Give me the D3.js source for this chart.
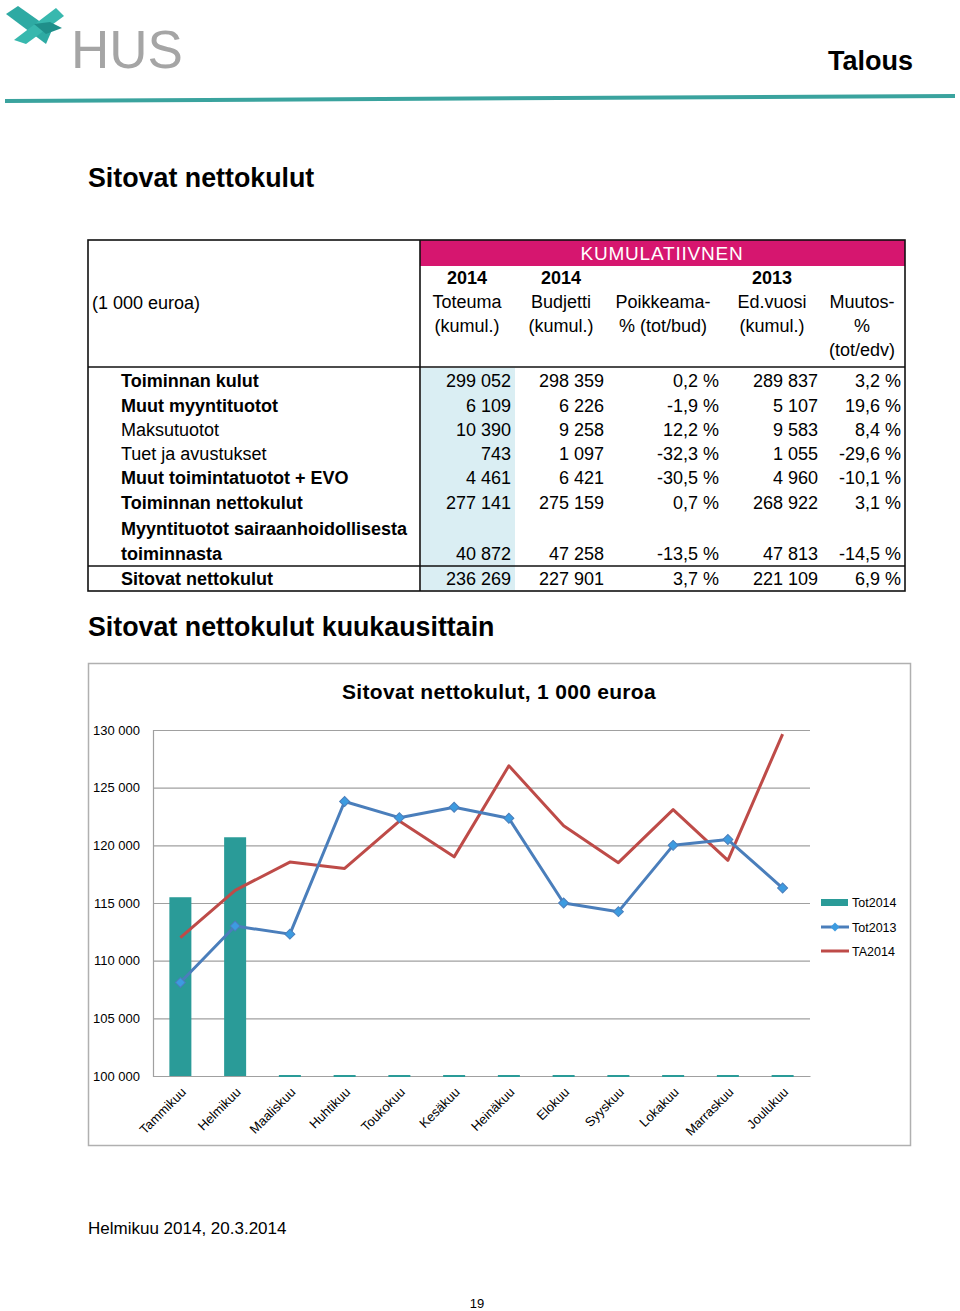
<!DOCTYPE html>
<html><head><meta charset="utf-8">
<script src="https://cdn.jsdelivr.net/npm/d3@7"></script>
<style>
body{margin:0;background:#fff;}
svg{display:block;}
text{font-family:"Liberation Sans",Arial,sans-serif;}
</style></head>
<body>
<svg id="page" width="960" height="1311"></svg>
<script>
// ---------- DATA ----------
const months = ["Tammikuu","Helmikuu","Maaliskuu","Huhtikuu","Toukokuu","Kesäkuu","Heinäkuu","Elokuu","Syyskuu","Lokakuu","Marraskuu","Joulukuu"];
const tot2014 = [115500,120700,0,0,0,0,0,0,0,0,0,0];
const tot2013 = [108100,113000,112300,123800,122400,123300,122350,115000,114250,120000,120500,116300];
const ta2014  = [112000,116100,118550,118000,122100,119000,126900,121700,118500,123100,118700,129650];
const yTicks  = [100000,105000,110000,115000,120000,125000,130000];
const seriesNames = ["Tot2014","Tot2013","TA2014"];

const rowLabels = ["Toiminnan kulut","Muut myyntituotot","Maksutuotot","Tuet ja avustukset","Muut toimintatuotot + EVO","Toiminnan nettokulut","Myyntituotot sairaanhoidollisesta|toiminnasta","Sitovat nettokulut"];
const rowBold   = [true,true,false,false,true,true,true,true];
const toteuma   = [299052,6109,10390,743,4461,277141,40872,236269];
const budjetti  = [298359,6226,9258,1097,6421,275159,47258,227901];
const poikkeama = [0.2,-1.9,12.2,-32.3,-30.5,0.7,-13.5,3.7];
const edvuosi   = [289837,5107,9583,1055,4960,268922,47813,221109];
const muutos    = [3.2,19.6,8.4,-29.6,-10.1,3.1,-14.5,6.9];
const headerLines = [
  ["2014","Toteuma","(kumul.)"],
  ["2014","Budjetti","(kumul.)"],
  ["","Poikkeama-","% (tot/bud)"],
  ["2013","Ed.vuosi","(kumul.)"],
  ["","Muutos-","%","(tot/edv)"]
];

// ---------- helpers ----------
const fi = d3.formatLocale({decimal:",", thousands:"\u00a0", grouping:[3], currency:["","€"], minus:"-"});
const fmtInt = fi.format(",d");
const fmtPct = v => fi.format(".1f")(v) + "\u00a0%";

const svg = d3.select("#page");

// ---------- page header ----------
const logo = svg.append("g");
logo.append("path").attr("d","M6,14 L18,6 L52,30 L46,44 Z").attr("fill","#2eaaa3");
logo.append("path").attr("d","M14,40 L56,8 L64,16 L26,44 Z").attr("fill","#38b8ae");
logo.append("path").attr("d","M34,24 L50,22 L62,28 L46,34 Z").attr("fill","#1f8f8a");
svg.append("text").attr("x",71).attr("y",68).text("HUS")
  .attr("font-family","'Open Sans',sans-serif").attr("font-weight",300)
  .attr("font-size",53).attr("fill","#a5a5a5").attr("letter-spacing",0);
svg.append("text").attr("x",913).attr("y",70).attr("text-anchor","end").text("Talous")
  .attr("font-size",27).attr("font-weight","bold").attr("fill","#000");
svg.append("path").attr("d","M5,99 L955,94 L955,98 L5,103 Z").attr("fill","#3aa39e");

// ---------- titles ----------
svg.append("text").attr("x",88).attr("y",187).text("Sitovat nettokulut")
  .attr("font-size",26.8).attr("font-weight","bold");
svg.append("text").attr("x",88).attr("y",636).text("Sitovat nettokulut kuukausittain")
  .attr("font-size",26.8).attr("font-weight","bold");

// ---------- table ----------
const T = {x0:88, x1:905, y0:240, y1:591, xSplit:420, yHead:367, ySum:566};
const colRight = [511,604,719,818,901];
const colCenter = [467,561,663,772,862];
const rowCenters = [380.5,405,429.5,453.5,477.5,502,528,553.5,578];
const tg = svg.append("g");
tg.append("rect").attr("x",T.xSplit+1).attr("y",T.yHead+1).attr("width",94).attr("height",T.y1-T.yHead-2).attr("fill","#daeef3");
tg.append("rect").attr("x",T.xSplit).attr("y",T.y0).attr("width",T.x1-T.xSplit).attr("height",26).attr("fill","#d6166f");
tg.append("text").attr("x",662).attr("y",260).attr("text-anchor","middle").attr("fill","#fff")
  .attr("font-size",19).attr("letter-spacing",0.8).text("KUMULATIIVNEN");
tg.append("text").attr("x",92).attr("y",309).attr("font-size",18).text("(1 000 euroa)");
headerLines.forEach((lines,ci)=>{
  lines.forEach((t,li)=>{
    tg.append("text").attr("x",colCenter[ci]).attr("y",284+li*24).attr("text-anchor","middle")
      .attr("font-size",18).attr("font-weight",li===0?"bold":"normal").text(t);
  });
});
// rows
let ri = 0;
rowLabels.forEach((lab,i)=>{
  const parts = lab.split("|");
  parts.forEach((p,k)=>{
    tg.append("text").attr("x",121).attr("y",rowCenters[ri+k]+6.5).attr("font-size",18)
      .attr("font-weight",rowBold[i]?"bold":"normal").text(p);
  });
  const yb = rowCenters[ri+parts.length-1]+6.5;
  const vals = [fmtInt(toteuma[i]),fmtInt(budjetti[i]),fmtPct(poikkeama[i]),fmtInt(edvuosi[i]),fmtPct(muutos[i])];
  vals.forEach((v,c)=>{
    tg.append("text").attr("x",colRight[c]).attr("y",yb).attr("text-anchor","end")
      .attr("font-size",18).text(v);
  });
  ri += parts.length;
});
function line(x1,y1,x2,y2){tg.append("line").attr("x1",x1).attr("y1",y1).attr("x2",x2).attr("y2",y2).attr("stroke","#111").attr("stroke-width",1.6);}
tg.append("rect").attr("x",T.x0).attr("y",T.y0).attr("width",T.x1-T.x0).attr("height",T.y1-T.y0)
  .attr("fill","none").attr("stroke","#111").attr("stroke-width",1.6);
line(T.xSplit,T.y0,T.xSplit,T.y1);
line(T.x0,T.yHead,T.x1,T.yHead);
line(T.x0,T.ySum,T.x1,T.ySum);

// ---------- chart ----------
svg.append("rect").attr("x",88.5).attr("y",663.5).attr("width",822).attr("height",482)
  .attr("fill","#fff").attr("stroke","#b0b0b0").attr("stroke-width",1.5);
svg.append("text").attr("x",499).attr("y",699).attr("text-anchor","middle")
  .attr("font-size",21).attr("font-weight","bold").attr("letter-spacing",0.3).text("Sitovat nettokulut, 1 000 euroa");

const P = {left:153, right:810, top:730, bottom:1076};
const xc = d3.scalePoint().domain(months).range([P.left,P.right]).padding(0.5);
const y = d3.scaleLinear().domain([100000,130000]).range([P.bottom,P.top]);
const cg = svg.append("g");

// gridlines + y labels
const yAxis = d3.axisLeft(y).tickValues(yTicks).tickSize(-(P.right-P.left)).tickPadding(13)
  .tickFormat(d=>fi.format(",d")(d));
const ya = cg.append("g").attr("transform",`translate(${P.left},0)`).call(yAxis);
ya.select(".domain").attr("stroke","#a0a0a0").attr("stroke-width",1.2);
ya.selectAll(".tick line").attr("stroke","#a0a0a0").attr("stroke-width",1.2);
ya.selectAll(".tick text").attr("font-family","Lato,'Open Sans',sans-serif").attr("font-size",13).attr("fill","#000");

// x axis
const xAxis = d3.axisBottom(xc).tickSize(0).tickPadding(0);
const xa = cg.append("g").attr("transform",`translate(0,${P.bottom})`).call(xAxis);
xa.select(".domain").attr("stroke","#a0a0a0").attr("stroke-width",1.2);
xa.selectAll(".tick text").attr("font-family","Lato,'Open Sans',sans-serif").attr("font-size",13).attr("fill","#000")
  .attr("text-anchor","end").attr("dy",0)
  .attr("transform","translate(6,17) rotate(-45)");

// bars
const bw = 22;
cg.selectAll("rect.bar").data(tot2014).join("rect").attr("class","bar")
  .attr("x",(d,i)=>xc(months[i])-bw/2)
  .attr("width",bw)
  .attr("y",d=>d>y.domain()[0]? y(d) : P.bottom-1)
  .attr("height",d=>d>y.domain()[0]? P.bottom-y(d) : 2)
  .attr("fill","#2a9b98");

// lines
const lineGen = arr => d3.line().x((d,i)=>xc(months[i])).y(d=>y(d))(arr);
cg.append("path").attr("d",lineGen(ta2014)).attr("fill","none").attr("stroke","#be4b48").attr("stroke-width",3).attr("stroke-linejoin","round");
cg.append("path").attr("d",lineGen(tot2013)).attr("fill","none").attr("stroke","#4a7ebb").attr("stroke-width",3).attr("stroke-linejoin","round");
cg.selectAll("path.mk").data(tot2013).join("path").attr("class","mk")
  .attr("d",d3.symbol().type(d3.symbolSquare).size(50))
  .attr("transform",(d,i)=>`translate(${xc(months[i])},${y(d)}) rotate(45)`)
  .attr("fill","#3d9be0").attr("stroke","#4a7ebb").attr("stroke-width",1);

// legend
const lg = cg.append("g");
const lgY = [902,927,951];
lg.append("rect").attr("x",821).attr("y",lgY[0]-3).attr("width",27).attr("height",7).attr("fill","#2a9b98");
lg.append("line").attr("x1",821).attr("x2",849).attr("y1",lgY[1]).attr("y2",lgY[1]).attr("stroke","#4a7ebb").attr("stroke-width",3);
lg.append("path").attr("d",d3.symbol().type(d3.symbolSquare).size(40)).attr("transform",`translate(835,${lgY[1]}) rotate(45)`).attr("fill","#3d9be0");
lg.append("line").attr("x1",821).attr("x2",849).attr("y1",lgY[2]).attr("y2",lgY[2]).attr("stroke","#be4b48").attr("stroke-width",3);
seriesNames.forEach((n,i)=>{
  lg.append("text").attr("x",852).attr("y",lgY[i]+4.5).attr("font-family","Lato,'Open Sans',sans-serif").attr("font-size",12.5).text(n);
});

// ---------- footer ----------
svg.append("text").attr("x",88).attr("y",1234).attr("font-family","Lato,'Open Sans',sans-serif").attr("font-size",17).text("Helmikuu 2014, 20.3.2014");
svg.append("text").attr("x",477).attr("y",1308).attr("text-anchor","middle").attr("font-size",13).text("19");
</script>
</body></html>
